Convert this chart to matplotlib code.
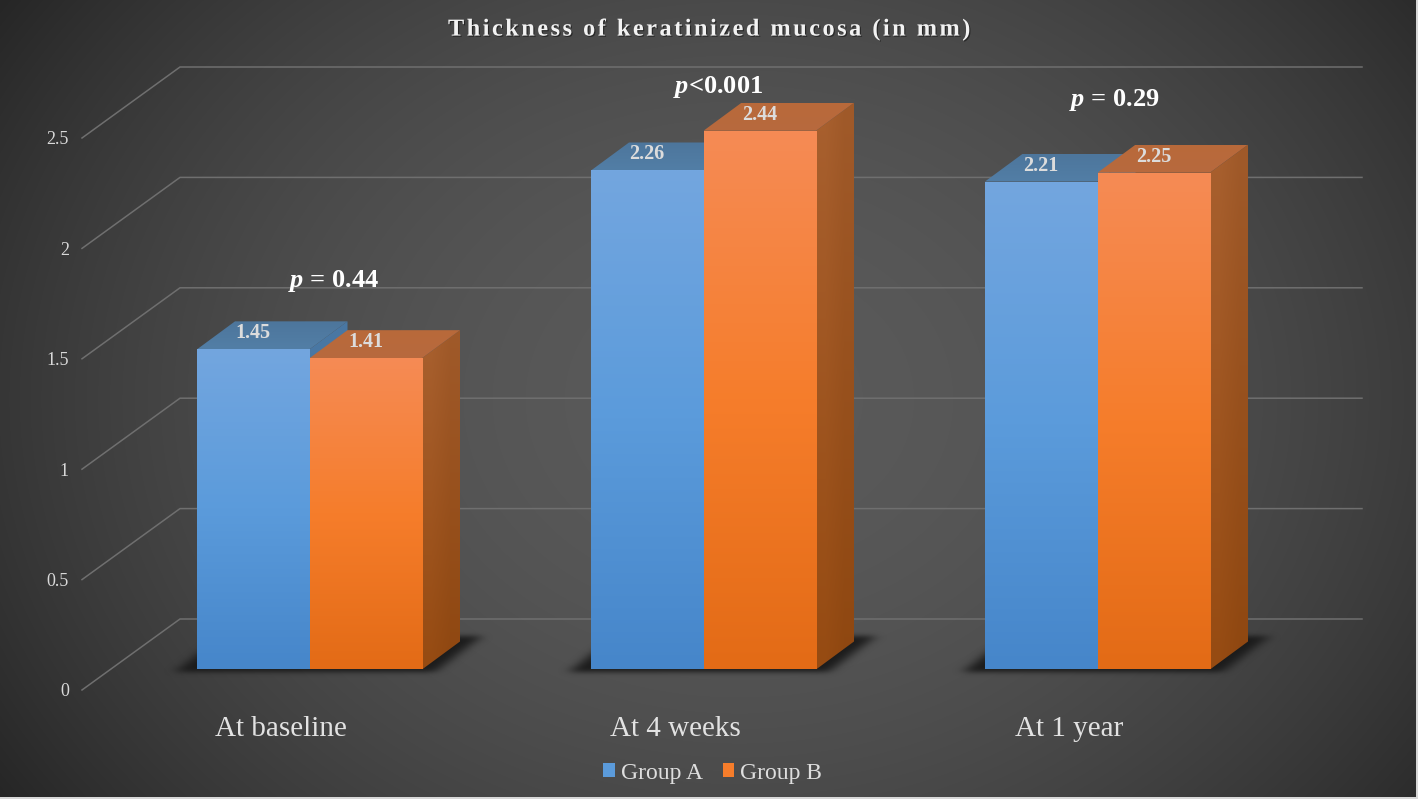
import numpy as np
import matplotlib
matplotlib.use("Agg")
import matplotlib.pyplot as plt
from matplotlib.patches import Polygon, Patch
from matplotlib.path import Path
from matplotlib.patheffects import AbstractPathEffect
from matplotlib.transforms import Affine2D, IdentityTransform

categories = ["At baseline", "At 4 weeks", "At 1 year"]
group_names = ["Group A", "Group B"]
group_a = [1.45, 2.26, 2.21]
group_b = [1.41, 2.44, 2.25]
p_labels = ["= 0.44", "<0.001", "= 0.29"]
y_ticks = [0, 0.5, 1, 1.5, 2, 2.5]
y_tick_labels = ["0", "0.5", "1", "1.5", "2", "2.5"]
title = "Thickness of keratinized mucosa (in mm)"

W, H = 1418, 799
XP, YP = 394.0, 220.8
X0, Y0 = 309.5, 669.5


def dx(px):
    return px / XP


def dy(px):
    return px / YP


class LetterSpacing(AbstractPathEffect):
    """Spread the glyphs of a text by a fixed gap, about the text's centre, with a soft shadow."""

    def __init__(self, text, prop, gap):
        super().__init__()
        self.text, self.prop, self.gap = text, prop, gap

    def draw_path(self, renderer, gc, tpath, affine, rgbFace=None):
        verts = affine.transform(tpath.vertices)
        codes = tpath.codes
        starts = np.flatnonzero(codes == Path.MOVETO)
        ends = np.append(starts[1:], len(verts))
        xmin = verts[:, 0].min()
        widths = [renderer.get_text_width_height_descent(self.text[:k], self.prop, False)[0]
                  for k in range(1, len(self.text) + 1)]
        bounds = np.array(widths)
        out = verts.copy()
        half = self.gap * (len(self.text) - 1) / 2
        for a, b in zip(starts, ends):
            idx = np.searchsorted(bounds, verts[a:b, 0].mean() - xmin)
            out[a:b, 0] += self.gap * idx - half
        path = Path(out, codes)
        shadow = renderer.new_gc()
        shadow.copy_properties(gc)
        shadow.set_alpha(0.45)
        renderer.draw_path(shadow, path, Affine2D().translate(1.2, -1.2), (0, 0, 0))
        shadow.restore()
        renderer.draw_path(gc, path, IdentityTransform(), rgbFace)


plt.rcParams["font.family"] = "Liberation Serif"
plt.rcParams["mathtext.fontset"] = "custom"
plt.rcParams["mathtext.bfit"] = "Liberation Serif:italic:bold"
plt.rcParams["mathtext.bf"] = "Liberation Serif:bold"
plt.rcParams["mathtext.rm"] = "Liberation Serif"

fig = plt.figure(figsize=(W / 100, H / 100), dpi=100, facecolor="#d8d8d8")
ax = fig.add_axes([0, 0, 1, 1])
xlim = (-X0 / XP, (W - X0) / XP)
ylim = (-(H - Y0) / YP, Y0 / YP)
ax.set_axis_off()

# background
yy, xx = np.mgrid[0:H, 0:W]
u = (xx - 740) / 740.0
v = (yy - 400) / 400.0
t = np.clip((u ** 2 + 0.45 * v ** 2) / 1.45, 0, 1)
g = (0x5a - 0x34 * t) / 255.0
ax.imshow(np.dstack([g, g, g]), extent=(xlim[0], xlim[1] - dx(2), ylim[0] + dy(2), ylim[1]),
          aspect="auto", zorder=0, interpolation="bilinear")

# walls and grid
wall_front_x, wall_back_x = dx(82 - X0), dx(180 - X0)
wall_front_y, wall_back_y = dy(-20.5), dy(50.5)
grid_right = dx(1362 - X0)
grid_col = "#6f6f6f"
for tick, lab in zip(y_ticks, y_tick_labels):
    ax.plot([wall_front_x, wall_back_x, grid_right],
            [tick + wall_front_y, tick + wall_back_y, tick + wall_back_y],
            color=grid_col, lw=1.1, zorder=1, solid_joinstyle="miter")
    ax.text(wall_front_x - dx(13), tick + wall_front_y - dy(2), lab, ha="right", va="center",
            fontsize=13, color="#d9d9d9", zorder=5)


def hexrgb(c):
    return np.array(matplotlib.colors.to_rgb(c))


def gradient(stops, n=128):
    pos = np.linspace(0, 1, n)
    xs = np.linspace(0, 1, len(stops))
    arr = np.array([hexrgb(c) for c in stops])
    return np.dstack([np.interp(pos, xs, arr[:, i]) for i in range(3)]).reshape(n, 1, 3)


def filled_poly(pts, stops_left, stops_right=None, z=3):
    poly = Polygon(pts, closed=True, facecolor="none", edgecolor="none", zorder=z)
    ax.add_patch(poly)
    left = gradient(stops_left)
    img = left if stops_right is None else np.concatenate([left, gradient(stops_right)], axis=1)
    pts = np.array(pts)
    im = ax.imshow(img, extent=(pts[:, 0].min(), pts[:, 0].max(), pts[:, 1].min(), pts[:, 1].max()),
                   aspect="auto", zorder=z, interpolation="bilinear")
    im.set_clip_path(poly)


bar_w = dx(112.5)
depth_x, depth_y = dx(38), dy(28)
front_a = ["#73a6df", "#5b9bdb", "#4686ca"]
front_b = ["#f58b55", "#f67d2b", "#e36b16"]
side_a = ["#4a78a4", "#3f6f9c"]
top_a = ["#4d769c", "#527ea6"]
side_bl = ["#a8602f", "#964b12"]
side_br = ["#a05a2a", "#8f4710"]
top_b = ["#b9693a", "#b76a3e"]

# floor shadows
sh_px = [(-135, 3), (125, 3), (172, -33), (-90, -33)]
for i in range(len(categories)):
    cx0, cx1 = i - dx(175), i + dx(205)
    cy0, cy1 = dy(-18), dy(50)
    nx, ny = 380, 68
    gx, gy = np.meshgrid(np.linspace(cx0, cx1, nx), np.linspace(cy1, cy0, ny))
    verts = [(i + dx(a), dy(-b)) for a, b in sh_px]
    mask = Path(verts).contains_points(np.c_[gx.ravel(), gy.ravel()]).reshape(ny, nx).astype(float)
    k = np.exp(-0.5 * (np.arange(-15, 16) / 6.0) ** 2)
    k /= k.sum()
    mask = np.apply_along_axis(lambda r: np.convolve(r, k, mode="same"), 1, mask)
    k2 = np.exp(-0.5 * (np.arange(-7, 8) / 2.5) ** 2)
    k2 /= k2.sum()
    mask = np.apply_along_axis(lambda r: np.convolve(r, k2, mode="same"), 0, mask)
    rgba = np.zeros((ny, nx, 4))
    rgba[..., :3] = 0.1
    rgba[..., 3] = mask * 0.95
    ax.imshow(rgba, extent=(cx0, cx1, cy0, cy1), aspect="auto", zorder=2, interpolation="bilinear")

# bars
for i in range(len(categories)):
    for j, (vals, front, z) in enumerate(((group_a, front_a, 3), (group_b, front_b, 4))):
        val = vals[i]
        left = i - bar_w if j == 0 else i
        right = left + bar_w
        side = [(right, 0), (right + depth_x, depth_y), (right + depth_x, val + depth_y), (right, val)]
        top = [(left, val), (right, val), (right + depth_x, val + depth_y), (left + depth_x, val + depth_y)]
        if j == 0:
            filled_poly(side, side_a, z=z)
            filled_poly(top, top_a, z=z)
        else:
            filled_poly(side, side_bl, side_br, z=z)
            filled_poly(top, top_b, z=z)
        rect = ax.bar(left, val, width=bar_w, align="edge", color="none", zorder=z)[0]
        im = ax.imshow(gradient(front), extent=(left, right, 0, val), aspect="auto",
                       zorder=z, interpolation="bilinear")
        im.set_clip_path(rect)
        ax.text(left + bar_w / 2, val + dy(16), f"{val:.2f}", ha="center", va="center",
                fontsize=14.5, fontweight="bold", color="#dcdcdc", zorder=6)

# category labels
for i, c in enumerate(categories):
    ax.text(i - dx(28.5), dy(-59), c, ha="center", va="center", fontsize=21,
            color="#e2e2e2", zorder=6)

# p values
p_offsets = [(23.5, 1.76), (14.5, 2.64), (17, 2.58)]
for i, lab in enumerate(p_labels):
    ox, oy = p_offsets[i]
    ax.text(i + dx(ox), oy, r"$\mathbfit{p}$" + (" " if lab.startswith("=") else "") + lab,
            ha="center", va="center", fontsize=19, fontweight="bold", color="white", zorder=6)

title_text = ax.text(dx(709 - X0), dy(Y0 - 30), title, ha="center", va="center", fontsize=17.5,
                     fontweight="bold", color="#f2f2f2", zorder=6)
title_text.set_path_effects([LetterSpacing(title, title_text.get_fontproperties(), 2.5)])

handles = [Patch(facecolor="#5b9bdb", edgecolor="none", label=group_names[0]),
           Patch(facecolor="#f67d2b", edgecolor="none", label=group_names[1])]
leg = ax.legend(handles=handles, ncol=2, loc="center", bbox_to_anchor=(712.5 / W, 1 - 773 / H),
                bbox_transform=fig.transFigure, frameon=False, fontsize=17, labelcolor="#dedede",
                handlelength=0.5, handleheight=0.5, handletextpad=0.25, columnspacing=0.85,
                borderpad=0, borderaxespad=0)
leg.set_zorder(6)

ax.set_xlim(xlim)
ax.set_ylim(ylim)
fig.savefig("out.png", dpi=100, facecolor=fig.get_facecolor())
